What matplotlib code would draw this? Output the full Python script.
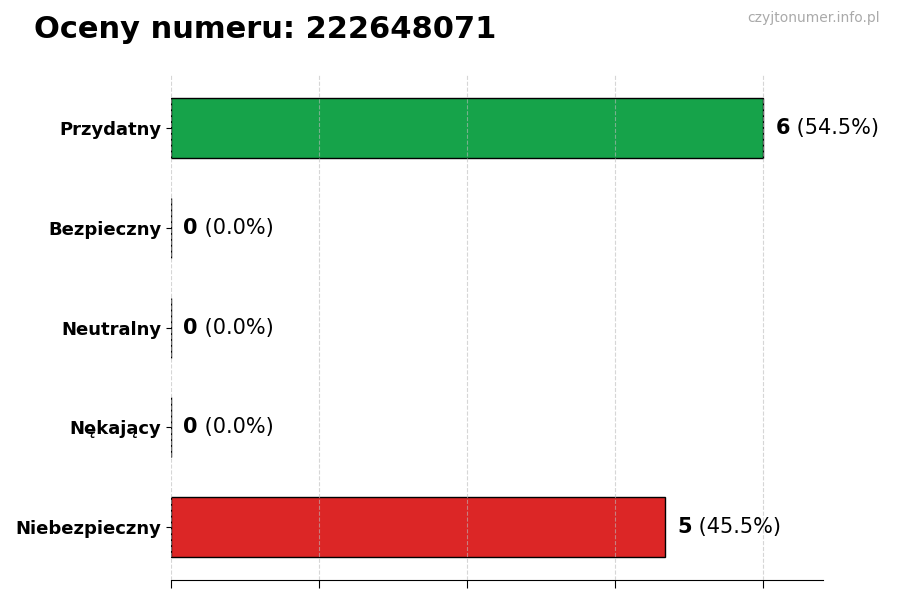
import matplotlib
matplotlib.use("Agg")
import matplotlib.pyplot as plt

categories = ["Przydatny", "Bezpieczny", "Neutralny", "Nękający", "Niebezpieczny"]
counts = [6, 0, 0, 0, 5]
colors = ["#16a34a", "#9ca3af", "#3b82f6", "#f59e0b", "#dc2626"]
title = "Oceny numeru: 222648071"
watermark = "czyjtonumer.info.pl"

total = sum(counts)
fig = plt.figure(figsize=(9, 6), dpi=100)
ax = fig.add_axes([0.19, 0.033, 0.724, 0.842])

ypos = list(range(len(categories)))[::-1]
ax.barh(ypos, counts, height=0.6, color=colors, edgecolor="black", linewidth=1, zorder=2)
ax.set_yticks(ypos)
ax.set_yticklabels(categories, fontsize=13, fontweight="bold")
xmax = max(counts) * 1.1
ax.set_xlim(0, xmax)
ax.set_xticks([0, 1.5, 3, 4.5, 6])
ax.set_xticklabels([])
ax.grid(axis="x", linestyle="--", color="#bbbbbb", alpha=0.6, linewidth=0.8, zorder=3)
ax.set_axisbelow(False)
for s in ["top", "right", "left"]:
    ax.spines[s].set_visible(False)
ax.tick_params(axis="x", length=6)

off = 0.125
for y, c in zip(ypos, counts):
    pct = 100 * c / total
    t = ax.text(c + off, y, f"{c}", fontsize=15, fontweight="bold", va="center", ha="left")
    ax.annotate(f" ({pct:.1f}%)", xycoords=t, xy=(1, 0.5), va="center", ha="left", fontsize=15)

fig.text(0.038, 0.95, title, fontsize=22, fontweight="bold", va="center", ha="left")
fig.text(0.978, 0.97, watermark, fontsize=10, color="#aaaaaa", va="center", ha="right")

fig.savefig("out.png", dpi=100)
